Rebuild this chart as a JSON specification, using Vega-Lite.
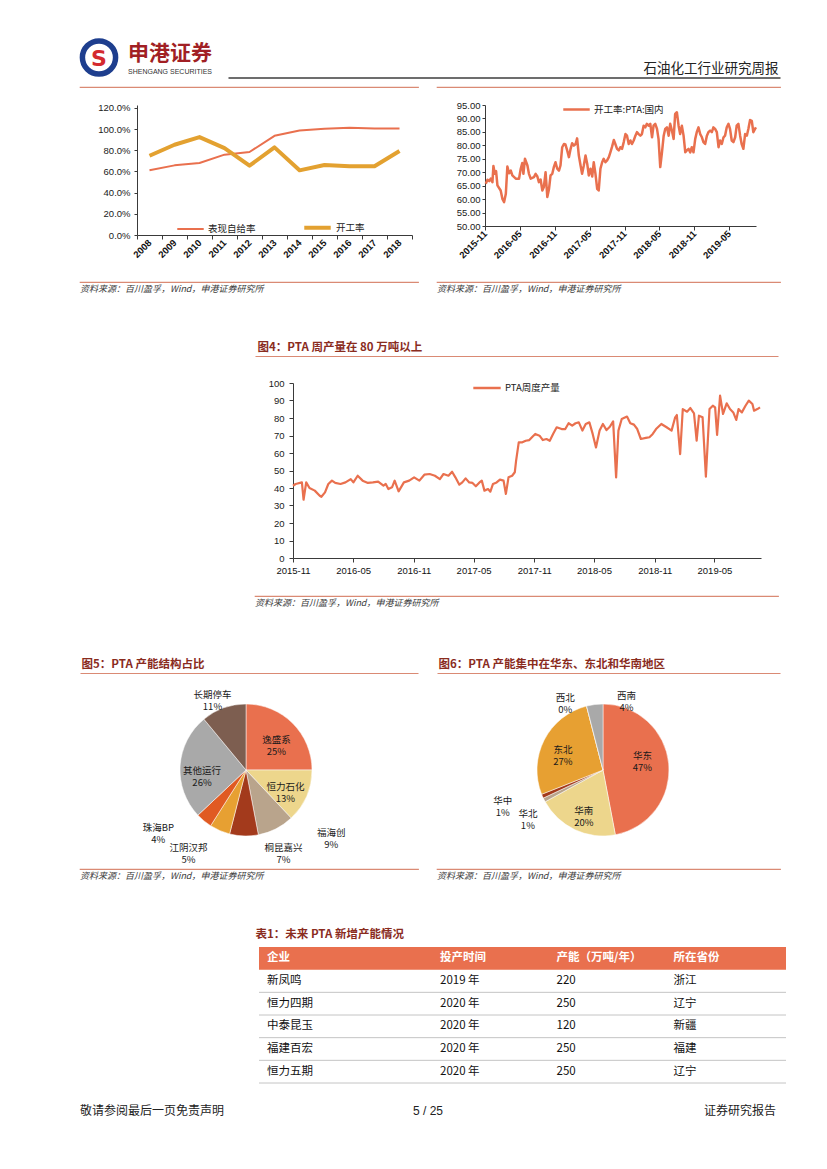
{
"$schema": "https://vega.github.io/schema/vega-lite/v6.json",
"background": "#ffffff",
"padding": 0,
"spacing": 0,
"resolve": {"scale": {"color": "independent", "strokeWidth": "independent", "theta": "independent", "x": "independent", "y": "independent"}, "legend": {"color": "independent", "strokeWidth": "independent"}},
"datasets": {
"blank": [{}],
"selfrate": [
{"year":"2008","s":"表现自给率","v":0.611},{"year":"2009","s":"表现自给率","v":0.658},{"year":"2010","s":"表现自给率","v":0.68},{"year":"2011","s":"表现自给率","v":0.759},{"year":"2012","s":"表现自给率","v":0.784},{"year":"2013","s":"表现自给率","v":0.937},{"year":"2014","s":"表现自给率","v":0.987},{"year":"2015","s":"表现自给率","v":1.003},{"year":"2016","s":"表现自给率","v":1.013},{"year":"2017","s":"表现自给率","v":1.006},{"year":"2018","s":"表现自给率","v":1.006},
{"year":"2008","s":"开工率","v":0.749},{"year":"2009","s":"开工率","v":0.853},{"year":"2010","s":"开工率","v":0.925},{"year":"2011","s":"开工率","v":0.821},{"year":"2012","s":"开工率","v":0.655},{"year":"2013","s":"开工率","v":0.828},{"year":"2014","s":"开工率","v":0.611},{"year":"2015","s":"开工率","v":0.661},{"year":"2016","s":"开工率","v":0.649},{"year":"2017","s":"开工率","v":0.649},{"year":"2018","s":"开工率","v":0.793}
],
"oprate": [
{"d":"2015-11-05","v":65.7},{"d":"2015-11-14","v":67.2},{"d":"2015-11-23","v":66.7},{"d":"2015-12-01","v":67.6},{"d":"2015-12-10","v":66.3},{"d":"2015-12-15","v":72.3},{"d":"2015-12-22","v":69.4},{"d":"2015-12-29","v":70.4},{"d":"2016-01-05","v":65.1},{"d":"2016-01-22","v":63.2},{"d":"2016-01-31","v":60.1},{"d":"2016-02-09","v":58.9},{"d":"2016-02-18","v":62.0},{"d":"2016-02-26","v":72.1},{"d":"2016-03-06","v":69.6},{"d":"2016-03-15","v":70.6},{"d":"2016-03-23","v":68.8},{"d":"2016-04-10","v":67.6},{"d":"2016-04-27","v":67.6},{"d":"2016-05-06","v":71.3},{"d":"2016-05-14","v":73.4},{"d":"2016-05-20","v":69.4},{"d":"2016-05-28","v":75.0},{"d":"2016-06-10","v":72.5},{"d":"2016-06-18","v":69.4},{"d":"2016-06-27","v":67.6},{"d":"2016-07-14","v":68.2},{"d":"2016-07-23","v":69.4},{"d":"2016-08-01","v":68.4},{"d":"2016-08-09","v":66.3},{"d":"2016-08-18","v":67.3},{"d":"2016-08-27","v":63.2},{"d":"2016-09-04","v":64.5},{"d":"2016-09-13","v":70.0},{"d":"2016-09-22","v":60.8},{"d":"2016-10-01","v":63.8},{"d":"2016-10-09","v":68.8},{"d":"2016-10-18","v":69.4},{"d":"2016-10-27","v":72.1},{"d":"2016-11-04","v":73.7},{"d":"2016-11-13","v":71.3},{"d":"2016-11-22","v":70.6},{"d":"2016-11-30","v":72.5},{"d":"2016-12-09","v":79.3},{"d":"2016-12-18","v":80.5},{"d":"2016-12-26","v":80.3},{"d":"2017-01-04","v":78.1},{"d":"2017-01-13","v":75.6},{"d":"2017-01-22","v":78.7},{"d":"2017-01-30","v":80.8},{"d":"2017-02-08","v":79.9},{"d":"2017-02-17","v":80.5},{"d":"2017-02-25","v":82.6},{"d":"2017-03-06","v":76.2},{"d":"2017-03-15","v":72.5},{"d":"2017-03-23","v":69.4},{"d":"2017-04-01","v":72.5},{"d":"2017-04-10","v":76.2},{"d":"2017-04-19","v":73.1},{"d":"2017-04-27","v":68.8},{"d":"2017-05-06","v":71.3},{"d":"2017-05-15","v":68.4},{"d":"2017-05-23","v":73.7},{"d":"2017-06-01","v":69.4},{"d":"2017-06-10","v":63.8},{"d":"2017-06-18","v":63.2},{"d":"2017-06-27","v":71.3},{"d":"2017-07-06","v":73.7},{"d":"2017-07-14","v":75.0},{"d":"2017-07-23","v":73.7},{"d":"2017-08-01","v":74.4},{"d":"2017-08-10","v":75.6},{"d":"2017-08-18","v":77.4},{"d":"2017-08-27","v":79.5},{"d":"2017-09-05","v":82.0},{"d":"2017-09-13","v":80.5},{"d":"2017-09-22","v":78.7},{"d":"2017-10-01","v":78.1},{"d":"2017-10-09","v":79.3},{"d":"2017-10-18","v":78.7},{"d":"2017-10-27","v":81.2},{"d":"2017-11-05","v":84.2},{"d":"2017-11-13","v":83.6},{"d":"2017-11-22","v":80.5},{"d":"2017-12-01","v":81.8},{"d":"2017-12-09","v":80.5},{"d":"2017-12-18","v":81.8},{"d":"2017-12-27","v":83.6},{"d":"2018-01-04","v":84.9},{"d":"2018-01-13","v":84.2},{"d":"2018-01-22","v":83.6},{"d":"2018-01-30","v":84.2},{"d":"2018-02-08","v":87.3},{"d":"2018-02-17","v":86.7},{"d":"2018-02-25","v":88.0},{"d":"2018-03-06","v":87.3},{"d":"2018-03-15","v":88.0},{"d":"2018-03-24","v":83.0},{"d":"2018-04-01","v":87.3},{"d":"2018-04-10","v":88.0},{"d":"2018-04-19","v":86.1},{"d":"2018-04-27","v":82.4},{"d":"2018-05-06","v":71.9},{"d":"2018-05-15","v":77.4},{"d":"2018-05-24","v":83.6},{"d":"2018-06-01","v":86.1},{"d":"2018-06-10","v":86.7},{"d":"2018-06-19","v":83.6},{"d":"2018-06-27","v":88.0},{"d":"2018-07-06","v":85.5},{"d":"2018-07-15","v":82.4},{"d":"2018-07-23","v":91.7},{"d":"2018-08-01","v":92.3},{"d":"2018-08-10","v":87.3},{"d":"2018-08-18","v":84.2},{"d":"2018-08-27","v":87.3},{"d":"2018-09-05","v":83.6},{"d":"2018-09-14","v":77.4},{"d":"2018-09-22","v":78.1},{"d":"2018-10-01","v":78.7},{"d":"2018-10-10","v":77.4},{"d":"2018-10-18","v":79.3},{"d":"2018-10-27","v":77.4},{"d":"2018-11-05","v":82.4},{"d":"2018-11-13","v":84.9},{"d":"2018-11-22","v":86.7},{"d":"2018-12-01","v":84.2},{"d":"2018-12-10","v":83.0},{"d":"2018-12-18","v":81.2},{"d":"2018-12-27","v":80.5},{"d":"2019-01-05","v":83.6},{"d":"2019-01-13","v":84.9},{"d":"2019-01-22","v":85.5},{"d":"2019-01-31","v":84.9},{"d":"2019-02-08","v":86.7},{"d":"2019-02-17","v":86.1},{"d":"2019-02-26","v":84.9},{"d":"2019-03-07","v":79.3},{"d":"2019-03-15","v":81.8},{"d":"2019-03-24","v":80.5},{"d":"2019-04-02","v":83.0},{"d":"2019-04-10","v":83.6},{"d":"2019-04-19","v":86.7},{"d":"2019-04-28","v":88.0},{"d":"2019-05-06","v":86.1},{"d":"2019-05-15","v":81.8},{"d":"2019-05-24","v":81.2},{"d":"2019-06-02","v":83.0},{"d":"2019-06-10","v":87.3},{"d":"2019-06-19","v":88.0},{"d":"2019-06-28","v":83.6},{"d":"2019-07-06","v":80.5},{"d":"2019-07-15","v":78.7},{"d":"2019-07-24","v":84.2},{"d":"2019-08-02","v":83.6},{"d":"2019-08-10","v":86.1},{"d":"2019-08-19","v":89.4},{"d":"2019-08-28","v":89.1},{"d":"2019-09-05","v":84.9},{"d":"2019-09-14","v":86.1},{"d":"2019-09-19","v":86.7}
],
"weekly": [
{"d":"2015-11-01","v":41.3},{"d":"2015-11-09","v":42.3},{"d":"2015-11-28","v":43.2},{"d":"2015-12-03","v":33.3},{"d":"2015-12-11","v":43.2},{"d":"2015-12-21","v":40.0},{"d":"2016-01-06","v":38.5},{"d":"2016-01-21","v":35.6},{"d":"2016-01-26","v":35.0},{"d":"2016-02-06","v":37.5},{"d":"2016-02-16","v":42.3},{"d":"2016-02-27","v":44.2},{"d":"2016-03-08","v":42.9},{"d":"2016-03-24","v":42.3},{"d":"2016-04-08","v":43.2},{"d":"2016-04-24","v":45.1},{"d":"2016-05-02","v":43.2},{"d":"2016-05-15","v":47.0},{"d":"2016-05-30","v":44.2},{"d":"2016-06-15","v":42.9},{"d":"2016-06-30","v":43.2},{"d":"2016-07-16","v":43.6},{"d":"2016-08-01","v":41.3},{"d":"2016-08-08","v":42.3},{"d":"2016-08-16","v":39.4},{"d":"2016-08-27","v":40.4},{"d":"2016-09-04","v":44.2},{"d":"2016-09-16","v":38.1},{"d":"2016-10-02","v":43.2},{"d":"2016-10-18","v":44.2},{"d":"2016-11-02","v":46.1},{"d":"2016-11-18","v":44.2},{"d":"2016-12-03","v":47.6},{"d":"2016-12-19","v":48.0},{"d":"2017-01-04","v":47.0},{"d":"2017-01-19","v":45.1},{"d":"2017-01-30","v":48.0},{"d":"2017-02-14","v":47.0},{"d":"2017-02-25","v":49.3},{"d":"2017-03-07","v":46.1},{"d":"2017-03-19","v":41.9},{"d":"2017-03-28","v":43.2},{"d":"2017-04-07","v":45.5},{"d":"2017-04-18","v":43.2},{"d":"2017-04-28","v":42.9},{"d":"2017-05-08","v":41.0},{"d":"2017-05-19","v":43.2},{"d":"2017-05-26","v":44.2},{"d":"2017-06-03","v":38.5},{"d":"2017-06-14","v":39.4},{"d":"2017-06-21","v":37.9},{"d":"2017-06-29","v":42.3},{"d":"2017-07-10","v":43.2},{"d":"2017-07-20","v":44.8},{"d":"2017-07-31","v":44.2},{"d":"2017-08-07","v":36.6},{"d":"2017-08-15","v":46.1},{"d":"2017-08-26","v":47.0},{"d":"2017-09-03","v":49.0},{"d":"2017-09-07","v":55.6},{"d":"2017-09-15","v":66.1},{"d":"2017-09-26","v":66.1},{"d":"2017-10-06","v":67.0},{"d":"2017-10-17","v":67.4},{"d":"2017-10-25","v":69.0},{"d":"2017-11-04","v":70.9},{"d":"2017-11-17","v":69.9},{"d":"2017-11-27","v":67.4},{"d":"2017-12-08","v":68.0},{"d":"2017-12-18","v":67.0},{"d":"2017-12-28","v":70.9},{"d":"2018-01-08","v":74.7},{"d":"2018-01-23","v":73.7},{"d":"2018-02-03","v":73.7},{"d":"2018-02-13","v":77.0},{"d":"2018-02-24","v":75.6},{"d":"2018-03-06","v":77.0},{"d":"2018-03-16","v":77.5},{"d":"2018-03-27","v":72.8},{"d":"2018-04-06","v":76.6},{"d":"2018-04-17","v":77.5},{"d":"2018-04-27","v":70.9},{"d":"2018-05-07","v":63.2},{"d":"2018-05-18","v":72.8},{"d":"2018-05-28","v":76.6},{"d":"2018-06-08","v":73.1},{"d":"2018-06-18","v":75.0},{"d":"2018-06-28","v":78.1},{"d":"2018-07-07","v":46.1},{"d":"2018-07-14","v":72.8},{"d":"2018-07-24","v":79.4},{"d":"2018-08-09","v":80.8},{"d":"2018-08-19","v":77.0},{"d":"2018-08-30","v":76.2},{"d":"2018-09-09","v":73.7},{"d":"2018-09-20","v":68.0},{"d":"2018-10-05","v":68.6},{"d":"2018-10-16","v":69.0},{"d":"2018-10-26","v":70.9},{"d":"2018-11-05","v":73.7},{"d":"2018-11-21","v":76.6},{"d":"2018-12-07","v":74.7},{"d":"2018-12-22","v":72.8},{"d":"2019-01-02","v":80.4},{"d":"2019-01-07","v":81.7},{"d":"2019-01-17","v":59.4},{"d":"2019-01-25","v":85.1},{"d":"2019-02-07","v":83.6},{"d":"2019-02-17","v":85.7},{"d":"2019-02-28","v":82.7},{"d":"2019-03-08","v":67.0},{"d":"2019-03-15","v":81.3},{"d":"2019-03-26","v":80.4},{"d":"2019-04-05","v":46.5},{"d":"2019-04-16","v":85.1},{"d":"2019-04-26","v":87.0},{"d":"2019-05-03","v":86.1},{"d":"2019-05-09","v":70.3},{"d":"2019-05-18","v":92.8},{"d":"2019-05-27","v":82.3},{"d":"2019-06-07","v":88.4},{"d":"2019-06-17","v":85.1},{"d":"2019-06-27","v":83.2},{"d":"2019-07-06","v":78.9},{"d":"2019-07-13","v":85.1},{"d":"2019-07-23","v":83.2},{"d":"2019-08-03","v":87.0},{"d":"2019-08-13","v":89.9},{"d":"2019-08-24","v":88.0},{"d":"2019-08-29","v":84.2},{"d":"2019-09-08","v":85.1},{"d":"2019-09-16","v":86.1}
],
"pie5": [
{"k":"逸盛系","v":25,"o":1,"lab":["逸盛系","25%"]},
{"k":"恒力石化","v":13,"o":2,"lab":["恒力石化","13%"]},
{"k":"福海创","v":9,"o":3,"lab":["福海创","9%"]},
{"k":"桐昆嘉兴","v":7,"o":4,"lab":["桐昆嘉兴","7%"]},
{"k":"江阴汉邦","v":5,"o":5,"lab":["江阴汉邦","5%"]},
{"k":"珠海BP","v":4,"o":6,"lab":["珠海BP","4%"]},
{"k":"其他运行","v":26,"o":7,"lab":["其他运行","26%"]},
{"k":"长期停车","v":11,"o":8,"lab":["长期停车","11%"]}
],
"pie6": [
{"k":"华东","v":47,"o":1,"lab":["华东","47%"]},
{"k":"华南","v":20,"o":2,"lab":["华南","20%"]},
{"k":"华北","v":1,"o":3,"lab":["华北","1%"]},
{"k":"华中","v":1,"o":4,"lab":["华中","1%"]},
{"k":"东北","v":27,"o":5,"lab":["东北","27%"]},
{"k":"西北","v":0,"o":6,"lab":["西北","0%"]},
{"k":"西南","v":4,"o":7,"lab":["西南","4%"]}
],
"table": [
{"r":0,"c":0,"t":"企业"},{"r":0,"c":1,"t":"投产时间"},{"r":0,"c":2,"t":"产能（万吨/年）"},{"r":0,"c":3,"t":"所在省份"},
{"r":1,"c":0,"t":"新凤鸣"},{"r":1,"c":1,"t":"2019 年"},{"r":1,"c":2,"t":"220"},{"r":1,"c":3,"t":"浙江"},
{"r":2,"c":0,"t":"恒力四期"},{"r":2,"c":1,"t":"2020 年"},{"r":2,"c":2,"t":"250"},{"r":2,"c":3,"t":"辽宁"},
{"r":3,"c":0,"t":"中泰昆玉"},{"r":3,"c":1,"t":"2020 年"},{"r":3,"c":2,"t":"120"},{"r":3,"c":3,"t":"新疆"},
{"r":4,"c":0,"t":"福建百宏"},{"r":4,"c":1,"t":"2020 年"},{"r":4,"c":2,"t":"250"},{"r":4,"c":3,"t":"福建"},
{"r":5,"c":0,"t":"恒力五期"},{"r":5,"c":1,"t":"2020 年"},{"r":5,"c":2,"t":"250"},{"r":5,"c":3,"t":"辽宁"}
],
"footer": [
{"p":"l","t":"敬请参阅最后一页免责声明"},{"p":"c","t":"5 / 25"},{"p":"r","t":"证券研究报告"}
]
},
"vconcat": [
{"hconcat": [
 {"width":0.01,"height":28.5,"data":{"name":"blank"},"mark":{"type":"point","opacity":0,"size":0}}
], "bounds": "flush", "spacing": 0},

{"hconcat": [
 {"width":80,"height":48,"data":{"name":"blank"},"mark":{"type":"point","opacity":0,"size":0}},
 {"width":38,"height":39,"data":{"name":"blank"},
  "layer":[
   {"mark":{"type":"point","shape":"circle","size":1100,"filled":false,"stroke":"#1E3E8E","strokeWidth":5.5,"opacity":1}},
   {"mark":{"type":"text","text":"S","font":"DejaVu Sans","fontWeight":"bold","fontSize":22,"color":"#D42A2F","align":"center","baseline":"middle","dy":1}},
   {"mark":{"type":"text","text":"申港证券","font":"Noto Sans CJK SC","fontWeight":"bold","fontSize":21,"color":"#A11F24","align":"left","baseline":"middle","dx":29,"dy":-3.5}},
   {"mark":{"type":"text","text":"SHENGANG SECURITIES","font":"Liberation Sans","fontSize":7,"color":"#333333","align":"left","baseline":"middle","dx":29,"dy":14}}
  ]},
 {"width":110,"height":0.01,"data":{"name":"blank"},"mark":{"type":"point","opacity":0,"size":0}},
 {"width":552,"height":39.5,"data":{"name":"blank"},"mark":{"type":"point","opacity":0,"size":0},
  "encoding":{"x":{"datum":0,"type":"quantitative","scale":{"domain":[0,1]},"axis":{"orient":"bottom","domain":true,"domainColor":"#3c3c3c","domainWidth":1.6,"ticks":false,"labels":false,"grid":false,"title":"石油化工行业研究周报","titleX":550,"titleY":-4.7,"titleAngle":0,"titleAlign":"right","titleBaseline":"alphabetic","titleFont":"Noto Sans CJK SC","titleFontSize":13.5,"titleFontWeight":"normal","titleColor":"#222222"}}}}
], "bounds": "flush", "spacing": 0},

{"hconcat": [
 {"width":80,"height":8,"data":{"name":"blank"},"mark":{"type":"point","opacity":0,"size":0}},
 {"width":338,"height":0.01,"data":{"name":"blank"},"mark":{"type":"point","opacity":0,"size":0},"view":{"stroke":"#DA8A74","strokeWidth":1.2}},
 {"width":19,"height":0.01,"data":{"name":"blank"},"mark":{"type":"point","opacity":0,"size":0}},
 {"width":343,"height":0.01,"data":{"name":"blank"},"mark":{"type":"point","opacity":0,"size":0},"view":{"stroke":"#DA8A74","strokeWidth":1.2}}
], "bounds": "flush", "spacing": 0},

{"hconcat": [
 {"width":137,"height":176,"data":{"name":"blank"},"mark":{"type":"point","opacity":0,"size":0}},
 {"width":275,"height":130,"data":{"name":"selfrate"},
  "mark":{"type":"line","strokeJoin":"round"},
  "encoding":{
   "x":{"field":"year","type":"ordinal","scale":{"paddingInner":0,"paddingOuter":0},"axis":{"title":null,"labelAngle":-45,"labelAlign":"right","labelBaseline":"middle","labelFontSize":9.5,"labelFontWeight":"bold","labelColor":"#111111","tickBand":"extent","tickSize":4,"labelPadding":2}},
   "y":{"field":"v","type":"quantitative","scale":{"domain":[0,1.2283],"nice":false},"axis":{"title":null,"values":[0,0.2,0.4,0.6,0.8,1.0,1.2],"format":".1%","tickSize":3,"labelPadding":4,"labelFontSize":9.5}},
   "color":{"field":"s","type":"nominal","scale":{"domain":["表现自给率","开工率"],"range":["#E9704E","#E3A130"]},"legend":{"orient":"none","legendX":39,"legendY":107,"direction":"horizontal","title":null,"columnPadding":40,"symbolType":"stroke","symbolSize":700,"labelFontSize":9.5}},
   "strokeWidth":{"field":"s","type":"nominal","scale":{"domain":["表现自给率","开工率"],"range":[2,4]},"legend":{"orient":"none","legendX":39,"legendY":107,"direction":"horizontal","title":null,"columnPadding":40,"symbolType":"stroke","symbolSize":700,"labelFontSize":9.5}}
  }},
 {"width":73,"height":0.01,"data":{"name":"blank"},"mark":{"type":"point","opacity":0,"size":0}},
 {"width":271,"height":121,"data":{"name":"oprate"},
  "mark":{"type":"line","strokeWidth":2.5,"strokeJoin":"round"},
  "encoding":{
   "x":{"field":"d","type":"temporal","scale":{"type":"utc","domain":[{"year":2015,"month":11,"date":1,"utc":true},{"year":2019,"month":9,"date":19,"utc":true}]},"axis":{"title":null,"values":[{"year":2015,"month":11,"date":1,"utc":true},{"year":2016,"month":5,"date":1,"utc":true},{"year":2016,"month":11,"date":1,"utc":true},{"year":2017,"month":5,"date":1,"utc":true},{"year":2017,"month":11,"date":1,"utc":true},{"year":2018,"month":5,"date":1,"utc":true},{"year":2018,"month":11,"date":1,"utc":true},{"year":2019,"month":5,"date":1,"utc":true}],"format":"%Y-%m","labelAngle":-45,"labelAlign":"right","labelBaseline":"middle","labelFontSize":9.5,"labelFontWeight":"bold","labelColor":"#111111","labelFlush":false,"labelOverlap":false,"tickSize":4,"labelPadding":2}},
   "y":{"field":"v","type":"quantitative","scale":{"domain":[50,95],"zero":false,"nice":false},"axis":{"title":null,"values":[50,55,60,65,70,75,80,85,90,95],"format":".2f","tickSize":3,"labelPadding":2,"labelFontSize":9.5}},
   "color":{"datum":"开工率:PTA:国内","scale":{"range":["#E9704E"]},"legend":{"orient":"none","legendX":77,"legendY":-10,"title":null,"symbolType":"stroke","symbolSize":700,"symbolStrokeWidth":2.5,"labelFontSize":9.5}}
  }}
], "bounds": "flush", "spacing": 0,
 "resolve": {"scale": {"color": "independent", "strokeWidth": "independent"}, "legend": {"color": "independent", "strokeWidth": "independent"}}},

{"hconcat": [
 {"width":80,"height":46.5,"data":{"name":"blank"},"mark":{"type":"point","opacity":0,"size":0}},
 {"width":338,"height":0.01,"data":{"name":"blank"},"mark":{"type":"point","opacity":0,"size":0},"view":{"stroke":"#DA8A74","strokeWidth":1.2},
  "title":{"text":"资料来源：百川盈孚，Wind，申港证券研究所","orient":"bottom","anchor":"start","frame":"group","offset":3,"baseline":"top","font":"Noto Sans CJK SC","fontSize":9,"fontStyle":"italic","fontWeight":"normal","color":"#3a3a3a"}},
 {"width":19,"height":0.01,"data":{"name":"blank"},"mark":{"type":"point","opacity":0,"size":0}},
 {"width":343,"height":0.01,"data":{"name":"blank"},"mark":{"type":"point","opacity":0,"size":0},"view":{"stroke":"#DA8A74","strokeWidth":1.2},
  "title":{"text":"资料来源：百川盈孚，Wind，申港证券研究所","orient":"bottom","anchor":"start","frame":"group","offset":3,"baseline":"top","font":"Noto Sans CJK SC","fontSize":9,"fontStyle":"italic","fontWeight":"normal","color":"#3a3a3a"}}
], "bounds": "flush", "spacing": 0},

{"hconcat": [
 {"width":255,"height":43.5,"data":{"name":"blank"},"mark":{"type":"point","opacity":0,"size":0}},
 {"width":523,"height":27,"data":{"name":"blank"},"mark":{"type":"point","opacity":0,"size":0},
  "encoding":{"x":{"datum":0,"type":"quantitative","scale":{"domain":[0,1]},"axis":{"orient":"bottom","domain":true,"domainColor":"#DA8A74","domainWidth":1.2,"ticks":false,"labels":false,"grid":false,"title":"图4：PTA 周产量在 80 万吨以上","titleX":2,"titleY":-6,"titleAngle":0,"titleAlign":"left","titleBaseline":"alphabetic","titleFont":"Noto Sans CJK SC","titleFontSize":11.5,"titleFontWeight":"bold","titleColor":"#8A2C1E"}}}}
], "bounds": "flush", "spacing": 0},

{"hconcat": [
 {"width":293,"height":212,"data":{"name":"blank"},"mark":{"type":"point","opacity":0,"size":0}},
 {"width":468,"height":175,"data":{"name":"weekly"},
  "mark":{"type":"line","strokeWidth":2.2,"strokeJoin":"round"},
  "encoding":{
   "x":{"field":"d","type":"temporal","scale":{"type":"utc","domain":[{"year":2015,"month":11,"date":1,"utc":true},{"year":2019,"month":9,"date":19,"utc":true}]},"axis":{"title":null,"values":[{"year":2015,"month":11,"date":1,"utc":true},{"year":2016,"month":5,"date":1,"utc":true},{"year":2016,"month":11,"date":1,"utc":true},{"year":2017,"month":5,"date":1,"utc":true},{"year":2017,"month":11,"date":1,"utc":true},{"year":2018,"month":5,"date":1,"utc":true},{"year":2018,"month":11,"date":1,"utc":true},{"year":2019,"month":5,"date":1,"utc":true}],"format":"%Y-%m","labelAngle":0,"labelFontSize":9.5,"labelColor":"#111111","labelFlush":false,"labelOverlap":false,"tickSize":4,"labelPadding":3}},
   "y":{"field":"v","type":"quantitative","scale":{"domain":[0,100],"nice":false},"axis":{"title":null,"values":[0,10,20,30,40,50,60,70,80,90,100],"tickSize":4,"labelPadding":5,"labelFontSize":9.5}},
   "color":{"datum":"PTA周度产量","scale":{"range":["#E9704E"]},"legend":{"orient":"none","legendX":179,"legendY":-10,"title":null,"symbolType":"stroke","symbolSize":750,"symbolStrokeWidth":2.5,"labelFontSize":9.5}}
  }}
], "bounds": "flush", "spacing": 0,
 "resolve": {"scale": {"color": "independent"}, "legend": {"color": "independent"}}},

{"hconcat": [
 {"width":255,"height":54,"data":{"name":"blank"},"mark":{"type":"point","opacity":0,"size":0}},
 {"width":523,"height":0.01,"data":{"name":"blank"},"mark":{"type":"point","opacity":0,"size":0},"view":{"stroke":"#DA8A74","strokeWidth":1.2},
  "title":{"text":"资料来源：百川盈孚，Wind，申港证券研究所","orient":"bottom","anchor":"start","frame":"group","offset":3,"baseline":"top","font":"Noto Sans CJK SC","fontSize":9,"fontStyle":"italic","fontWeight":"normal","color":"#3a3a3a"}}
], "bounds": "flush", "spacing": 0},

{"hconcat": [
 {"width":80,"height":34,"data":{"name":"blank"},"mark":{"type":"point","opacity":0,"size":0}},
 {"width":338,"height":23,"data":{"name":"blank"},"mark":{"type":"point","opacity":0,"size":0},
  "encoding":{"x":{"datum":0,"type":"quantitative","scale":{"domain":[0,1]},"axis":{"orient":"bottom","domain":true,"domainColor":"#DA8A74","domainWidth":1.2,"ticks":false,"labels":false,"grid":false,"title":"图5：PTA 产能结构占比","titleX":1,"titleY":-6,"titleAngle":0,"titleAlign":"left","titleBaseline":"alphabetic","titleFont":"Noto Sans CJK SC","titleFontSize":11.5,"titleFontWeight":"bold","titleColor":"#8A2C1E"}}}},
 {"width":19,"height":0.01,"data":{"name":"blank"},"mark":{"type":"point","opacity":0,"size":0}},
 {"width":343,"height":23,"data":{"name":"blank"},"mark":{"type":"point","opacity":0,"size":0},
  "encoding":{"x":{"datum":0,"type":"quantitative","scale":{"domain":[0,1]},"axis":{"orient":"bottom","domain":true,"domainColor":"#DA8A74","domainWidth":1.2,"ticks":false,"labels":false,"grid":false,"title":"图6：PTA 产能集中在华东、东北和华南地区","titleX":1,"titleY":-6,"titleAngle":0,"titleAlign":"left","titleBaseline":"alphabetic","titleFont":"Noto Sans CJK SC","titleFontSize":11.5,"titleFontWeight":"bold","titleColor":"#8A2C1E"}}}}
], "bounds": "flush", "spacing": 0},

{"hconcat": [
 {"width":180,"height":184,"data":{"name":"blank"},"mark":{"type":"point","opacity":0,"size":0}},
 {"width":132,"height":172,"data":{"name":"pie5"},
  "transform":[{"stack":"v","groupby":[],"sort":[{"field":"o","order":"ascending"}],"as":["v0","v1"]}],
  "layer":[
   {"mark":{"type":"arc","outerRadius":66,"stroke":"#ffffff","strokeWidth":0.5},"encoding":{"theta":{"field":"v0","type":"quantitative","scale":{"domain":[0,100]},"stack":null},"theta2":{"field":"v1"},"color":{"field":"k","type":"nominal","scale":{"domain":["逸盛系","恒力石化","福海创","桐昆嘉兴","江阴汉邦","珠海BP","其他运行","长期停车"],"range":["#E9704E","#EDD68C","#B9A48C","#A33A1C","#E7A032","#E05A22","#A9A9A9","#7D5E50"]},"legend":null}}},
   {"transform":[{"filter":{"field":"k","equal":"逸盛系"}}],"mark":{"type":"text","radius":43,"thetaOffset":-0.785,"fontSize":9.5,"lineHeight":12,"color":"#1a1a1a","font":"Noto Sans CJK SC"},"encoding":{"theta":{"field":"v1","type":"quantitative","stack":null},"text":{"field":"lab"}}},
   {"transform":[{"filter":{"field":"k","equal":"恒力石化"}}],"mark":{"type":"text","radius":43,"thetaOffset":-0.408,"fontSize":9.5,"lineHeight":12,"color":"#1a1a1a","font":"Noto Sans CJK SC"},"encoding":{"theta":{"field":"v1","type":"quantitative","stack":null},"text":{"field":"lab"}}},
   {"transform":[{"filter":{"field":"k","equal":"其他运行"}}],"mark":{"type":"text","radius":44,"thetaOffset":-0.897,"fontSize":9.5,"lineHeight":12,"color":"#1a1a1a","font":"Noto Sans CJK SC"},"encoding":{"theta":{"field":"v1","type":"quantitative","stack":null},"text":{"field":"lab"}}},
   {"transform":[{"filter":{"field":"k","equal":"长期停车"}}],"mark":{"type":"text","radius":82,"thetaOffset":-0.421,"fontSize":9.5,"lineHeight":12,"color":"#1a1a1a","font":"Noto Sans CJK SC"},"encoding":{"theta":{"field":"v1","type":"quantitative","stack":null},"text":{"field":"lab"}}},
   {"transform":[{"filter":{"field":"k","equal":"福海创"}}],"mark":{"type":"text","radius":106,"thetaOffset":-0.745,"fontSize":9.5,"lineHeight":12,"color":"#1a1a1a","font":"Noto Sans CJK SC"},"encoding":{"theta":{"field":"v1","type":"quantitative","stack":null},"text":{"field":"lab"}}},
   {"transform":[{"filter":{"field":"k","equal":"桐昆嘉兴"}}],"mark":{"type":"text","radius":87,"thetaOffset":-0.698,"fontSize":9.5,"lineHeight":12,"color":"#1a1a1a","font":"Noto Sans CJK SC"},"encoding":{"theta":{"field":"v1","type":"quantitative","stack":null},"text":{"field":"lab"}}},
   {"transform":[{"filter":{"field":"k","equal":"江阴汉邦"}}],"mark":{"type":"text","radius":97,"thetaOffset":0.07,"fontSize":9.5,"lineHeight":12,"color":"#1a1a1a","font":"Noto Sans CJK SC"},"encoding":{"theta":{"field":"v1","type":"quantitative","stack":null},"text":{"field":"lab"}}},
   {"transform":[{"filter":{"field":"k","equal":"珠海BP"}}],"mark":{"type":"text","radius":105,"thetaOffset":0.172,"fontSize":9.5,"lineHeight":12,"color":"#1a1a1a","font":"Noto Sans CJK SC"},"encoding":{"theta":{"field":"v1","type":"quantitative","stack":null},"text":{"field":"lab"}}}
  ]},
 {"width":225,"height":0.01,"data":{"name":"blank"},"mark":{"type":"point","opacity":0,"size":0}},
 {"width":132,"height":172,"data":{"name":"pie6"},
  "transform":[{"stack":"v","groupby":[],"sort":[{"field":"o","order":"ascending"}],"as":["v0","v1"]}],
  "layer":[
   {"mark":{"type":"arc","outerRadius":66,"stroke":"#ffffff","strokeWidth":0.5},"encoding":{"theta":{"field":"v0","type":"quantitative","scale":{"domain":[0,100]},"stack":null},"theta2":{"field":"v1"},"color":{"field":"k","type":"nominal","scale":{"domain":["华东","华南","华北","华中","东北","西北","西南"],"range":["#E9704E","#EDD68C","#B9A48C","#A33A1C","#E7A032","#E05A22","#A9A9A9"]},"legend":null}}},
   {"transform":[{"filter":{"field":"k","equal":"华东"}}],"mark":{"type":"text","radius":42,"thetaOffset":-1.734,"fontSize":9.5,"lineHeight":12,"color":"#1a1a1a","font":"Noto Sans CJK SC"},"encoding":{"theta":{"field":"v1","type":"quantitative","stack":null},"text":{"field":"lab"}}},
   {"transform":[{"filter":{"field":"k","equal":"华南"}}],"mark":{"type":"text","radius":45,"thetaOffset":-0.628,"fontSize":9.5,"lineHeight":12,"color":"#1a1a1a","font":"Noto Sans CJK SC"},"encoding":{"theta":{"field":"v1","type":"quantitative","stack":null},"text":{"field":"lab"}}},
   {"transform":[{"filter":{"field":"k","equal":"东北"}}],"mark":{"type":"text","radius":45,"thetaOffset":-0.848,"fontSize":9.5,"lineHeight":12,"color":"#1a1a1a","font":"Noto Sans CJK SC"},"encoding":{"theta":{"field":"v1","type":"quantitative","stack":null},"text":{"field":"lab"}}},
   {"transform":[{"filter":{"field":"k","equal":"华北"}}],"mark":{"type":"text","radius":87,"thetaOffset":-0.089,"fontSize":9.5,"lineHeight":12,"color":"#1a1a1a","font":"Noto Sans CJK SC"},"encoding":{"theta":{"field":"v1","type":"quantitative","stack":null},"text":{"field":"lab"}}},
   {"transform":[{"filter":{"field":"k","equal":"华中"}}],"mark":{"type":"text","radius":105,"thetaOffset":0.073,"fontSize":9.5,"lineHeight":12,"color":"#1a1a1a","font":"Noto Sans CJK SC"},"encoding":{"theta":{"field":"v1","type":"quantitative","stack":null},"text":{"field":"lab"}}},
   {"transform":[{"filter":{"field":"k","equal":"西北"}}],"mark":{"type":"text","radius":81,"thetaOffset":-0.234,"fontSize":9.5,"lineHeight":12,"color":"#1a1a1a","font":"Noto Sans CJK SC"},"encoding":{"theta":{"field":"v1","type":"quantitative","stack":null},"text":{"field":"lab"}}},
   {"transform":[{"filter":{"field":"k","equal":"西南"}}],"mark":{"type":"text","radius":78,"thetaOffset":0.307,"fontSize":9.5,"lineHeight":12,"color":"#1a1a1a","font":"Noto Sans CJK SC"},"encoding":{"theta":{"field":"v1","type":"quantitative","stack":null},"text":{"field":"lab"}}}
  ]}
], "bounds": "flush", "spacing": 0,
 "resolve": {"scale": {"color": "independent", "theta": "independent"}}},

{"hconcat": [
 {"width":80,"height":54,"data":{"name":"blank"},"mark":{"type":"point","opacity":0,"size":0}},
 {"width":338,"height":0.01,"data":{"name":"blank"},"mark":{"type":"point","opacity":0,"size":0},"view":{"stroke":"#DA8A74","strokeWidth":1.2},
  "title":{"text":"资料来源：百川盈孚，Wind，申港证券研究所","orient":"bottom","anchor":"start","frame":"group","offset":3,"baseline":"top","font":"Noto Sans CJK SC","fontSize":9,"fontStyle":"italic","fontWeight":"normal","color":"#3a3a3a"}},
 {"width":19,"height":0.01,"data":{"name":"blank"},"mark":{"type":"point","opacity":0,"size":0}},
 {"width":343,"height":0.01,"data":{"name":"blank"},"mark":{"type":"point","opacity":0,"size":0},"view":{"stroke":"#DA8A74","strokeWidth":1.2},
  "title":{"text":"资料来源：百川盈孚，Wind，申港证券研究所","orient":"bottom","anchor":"start","frame":"group","offset":3,"baseline":"top","font":"Noto Sans CJK SC","fontSize":9,"fontStyle":"italic","fontWeight":"normal","color":"#3a3a3a"}}
], "bounds": "flush", "spacing": 0},

{"hconcat": [
 {"width":259,"height":24,"data":{"name":"blank"},"mark":{"type":"point","opacity":0,"size":0}},
 {"width":527,"height":24,"data":{"name":"blank"},"mark":{"type":"point","opacity":0,"size":0},
  "encoding":{"x":{"datum":0,"type":"quantitative","scale":{"domain":[0,1]},"axis":{"orient":"bottom","domain":false,"ticks":false,"labels":false,"grid":false,"title":"表1：未来 PTA 新增产能情况","titleX":-4,"titleY":-9.6,"titleAngle":0,"titleAlign":"left","titleBaseline":"alphabetic","titleFont":"Noto Sans CJK SC","titleFontSize":11.5,"titleFontWeight":"bold","titleColor":"#8A2C1E"}}}}
], "bounds": "flush", "spacing": 0},

{"hconcat": [
 {"width":259,"height":158,"data":{"name":"blank"},"mark":{"type":"point","opacity":0,"size":0}},
 {"width":527,"height":136,"data":{"name":"table"},
  "resolve":{"scale":{"x":"independent"}},
  "encoding":{"y":{"field":"r","type":"ordinal","scale":{"paddingInner":0,"paddingOuter":0},"axis":null}},
  "layer":[
   {"transform":[{"filter":{"field":"r","equal":0}},{"filter":{"field":"c","equal":0}}],"mark":{"type":"rect","color":"#E9704E"}},
   {"transform":[{"filter":{"field":"r","gte":1}},{"filter":{"field":"c","equal":0}}],"mark":{"type":"rule","color":"#C4C4C4","strokeWidth":1},"encoding":{"y":{"field":"r","type":"ordinal","bandPosition":1,"axis":null}}},
   {"transform":[{"filter":{"field":"r","equal":0}}],"mark":{"type":"text","align":"left","baseline":"middle","fontWeight":"bold","color":"#ffffff","fontSize":11.5,"font":"Noto Sans CJK SC"},
    "encoding":{"x":{"field":"c","type":"quantitative","scale":{"domain":[0,1,2,3],"range":[8,181,297.5,414.6],"nice":false,"zero":false},"axis":null},"text":{"field":"t"}}},
   {"transform":[{"filter":{"field":"r","gte":1}}],"mark":{"type":"text","align":"left","baseline":"middle","color":"#111111","fontSize":11.5,"font":"Noto Sans CJK SC"},
    "encoding":{"x":{"field":"c","type":"quantitative","scale":{"domain":[0,1,2,3],"range":[8,181,297.5,414.6],"nice":false,"zero":false},"axis":null},"text":{"field":"t"}}}
  ]}
], "bounds": "flush", "spacing": 0},

{"hconcat": [
 {"width":80,"height":0.01,"data":{"name":"blank"},"mark":{"type":"point","opacity":0,"size":0}},
 {"width":696,"height":0.01,"data":{"name":"footer"},
  "encoding":{"x":{"field":"p","type":"nominal","scale":{"type":"point","domain":["l","c","r"],"padding":0},"axis":null},"text":{"field":"t"}},
  "layer":[
   {"transform":[{"filter":{"field":"p","equal":"l"}}],"mark":{"type":"text","align":"left","baseline":"middle","fontSize":12,"color":"#222222","font":"Noto Sans CJK SC"}},
   {"transform":[{"filter":{"field":"p","equal":"c"}}],"mark":{"type":"text","align":"center","baseline":"middle","fontSize":12,"color":"#222222","font":"Liberation Sans"}},
   {"transform":[{"filter":{"field":"p","equal":"r"}}],"mark":{"type":"text","align":"right","baseline":"middle","fontSize":12,"color":"#222222","font":"Noto Sans CJK SC"}}
  ]}
], "bounds": "flush", "spacing": 0}
],
"config": {
 "view": {"stroke": null},
 "font": "Liberation Sans",
 "axis": {"labelFont": "Liberation Sans", "labelColor": "#1a1a1a", "domainColor": "#3a3a3a", "tickColor": "#3a3a3a", "domainWidth": 1, "tickWidth": 1, "grid": false},
 "legend": {"padding": 0, "labelFont": "Noto Sans CJK SC", "labelColor": "#222222", "labelOffset": 3},
 "title": {"font": "Noto Sans CJK SC"}
}
}
